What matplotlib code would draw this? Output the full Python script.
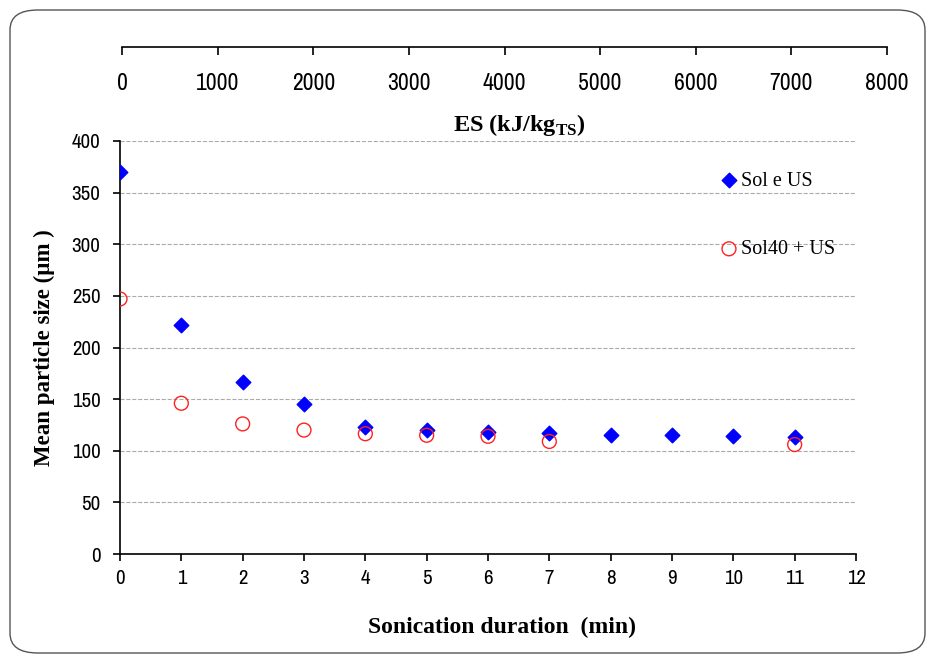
import matplotlib
matplotlib.use("Agg")
import matplotlib.pyplot as plt
from matplotlib.patches import FancyBboxPatch
from matplotlib.transforms import blended_transform_factory

duration = [0, 1, 2, 3, 4, 5, 6, 7, 8, 9, 10, 11]
sole_us = [370, 222, 167, 145, 123, 120, 118, 117, 115.5, 115.5, 114, 113]
dur40 = [0, 1, 2, 3, 4, 5, 6, 7, 11]
sol40_us = [247, 146, 126, 120, 116.5, 115, 114, 109, 106]
x_ticks = list(range(0, 13))
y_ticks = list(range(0, 401, 50))
es_ticks = list(range(0, 8001, 1000))

tick_font = ['Liberation Sans Narrow', 'Archivo Narrow', 'PT Sans Narrow',
             'Roboto Condensed', 'Liberation Sans', 'DejaVu Sans']
serif = ['Liberation Serif', 'DejaVu Serif']

fig = plt.figure(figsize=(9.31, 6.61), dpi=100)
fig.patch.set_facecolor('white')

border = FancyBboxPatch((10/931, 8/661), 915/931, 643/661,
                        boxstyle="round,pad=0,rounding_size=0.03",
                        transform=fig.transFigure, fill=False,
                        edgecolor='#555555', linewidth=1.0)
fig.patches.append(border)

ax = fig.add_axes([120/931, 1-554/661, 736/931, 413/661])
ax.scatter(duration, sole_us, marker='D', s=55, color='#0000ff', zorder=3, label='Sol e US')
ax.scatter(dur40, sol40_us, marker='o', s=100, facecolors='none', edgecolors='#ff2020',
           linewidths=1.0, zorder=3, label='Sol40 + US')
ax.set_xlim(0, 12)
ax.set_ylim(0, 400)
ax.set_xticks(x_ticks)
ax.set_yticks(y_ticks)
for s in ['top', 'right']:
    ax.spines[s].set_visible(False)
for s in ['left', 'bottom']:
    ax.spines[s].set_linewidth(1.2)
ax.yaxis.grid(True, linestyle='--', color='#aaaaaa', linewidth=0.8)
ax.set_axisbelow(True)
ax.tick_params(direction='out', length=5, width=1.2, labelsize=15)
ax.tick_params(axis='x', pad=6)
ax.tick_params(axis='y', pad=9)
for lab in ax.get_xticklabels() + ax.get_yticklabels():
    lab.set_family(tick_font)
ax.set_xlabel('Sonication duration  (min)', family=serif, fontweight='bold', fontsize=17)
ax.xaxis.set_label_coords(0.519, -0.153)
ax.set_ylabel('Mean particle size (µm )', family=serif, fontweight='bold', fontsize=16.5, labelpad=12)

leg = ax.legend(loc='upper left', bbox_to_anchor=(0.811, 0.926), frameon=False,
                prop={'family': serif, 'size': 14.5}, handletextpad=0.0,
                labelspacing=2.45, borderaxespad=0, borderpad=0, handlelength=1.2)

ax2 = fig.add_axes([122/931, 1-47/661, 765/931, 0.0001])
ax2.set_xlim(0, 8000)
ax2.set_xticks(es_ticks)
ax2.set_yticks([])
for s in ['top', 'left', 'right']:
    ax2.spines[s].set_visible(False)
ax2.spines['bottom'].set_linewidth(1.2)
ax2.tick_params(axis='x', direction='out', length=6, width=1.2, labelsize=17, pad=13)
for lab in ax2.get_xticklabels():
    lab.set_family(tick_font)
ax2.set_xlabel('ES (kJ/kg$_{\\mathregular{TS}}$)', family=serif, fontweight='bold', fontsize=17.5)
ax2.xaxis.set_label_coords(0.519, 1 - 125/661,
                           transform=blended_transform_factory(ax2.transAxes, fig.transFigure))
ax2.xaxis.label.set_verticalalignment('center')

fig.savefig('out.png', dpi=100)
